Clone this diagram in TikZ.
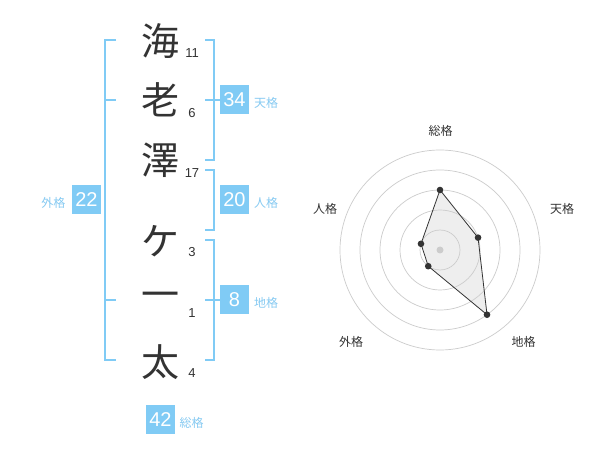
\documentclass[tikz,border=0pt]{standalone}
\usepackage{fontspec}
\setmainfont{Liberation Sans}
\newfontfamily\jpfont{Noto Sans CJK JP}
\definecolor{kcol}{HTML}{333333}
\definecolor{bl}{HTML}{80CBF5}
\definecolor{bltxt}{HTML}{86CAF2}
\definecolor{ring}{HTML}{CCCCCC}
\definecolor{area}{HTML}{EEEEEE}
\begin{document}
\begin{tikzpicture}[x=1pt,y=-1pt,
  kanji/.style={font=\jpfont\fontsize{38}{38}\selectfont, text=kcol, inner sep=0pt},
  strokes/.style={font=\fontsize{13}{13}\selectfont, text=kcol, inner sep=0pt},
  numbox/.style={fill=bl, minimum width=29pt, minimum height=29pt, inner sep=0pt, text=white, font=\fontsize{20}{20}\selectfont},
  kaku/.style={font=\jpfont\fontsize{12}{12}\selectfont, text=bltxt, inner sep=0pt},
  brk/.style={draw=bl, line width=2pt},
  axlabel/.style={font=\jpfont\fontsize{12}{12}\selectfont, text=kcol, inner sep=0pt},
  ringline/.style={draw=ring, line width=0.7pt},
  dot/.style={fill=kcol}
]
\useasboundingbox (0,0) rectangle (600,470);
\fill[white] (0,0) rectangle (600,470);

% kanji column
\node[kanji] (k1) at (160,41) {海};
\node[kanji] (k2) at (160,100) {老};
\node[kanji] (k3) at (160,160) {澤};
\node[kanji] (k4) at (160,241) {ケ};
\node[kanji] (k5) at (160,300) {一};
\node[kanji] (k6) at (160,362) {太};

% stroke counts
\node[strokes] (s1) at (192,53.5) {11};
\node[strokes] (s2) at (192,113) {6};
\node[strokes] (s3) at (192,173.5) {17};
\node[strokes] (s4) at (192,252) {3};
\node[strokes] (s5) at (192,313) {1};
\node[strokes] (s6) at (192,373) {4};

% brackets
\draw[brk] (116,40) -- (105,40) -- (105,360) -- (116,360);
\draw[brk] (105,100) -- (116,100);
\draw[brk] (105,300) -- (116,300);

\draw[brk] (205,40) -- (214,40) -- (214,160) -- (205,160);
\draw[brk] (205,100) -- (220,100);
\draw[brk] (205,170) -- (214,170) -- (214,230) -- (205,230);
\draw[brk] (205,240) -- (214,240) -- (214,360) -- (205,360);
\draw[brk] (205,300) -- (220,300);

% boxes and labels
\node[numbox] (b34) at (234.5,100) {34};
\node[kaku, anchor=west] (l34) at (254,102.5) {天格};
\node[numbox] (b20) at (234.5,200) {20};
\node[kaku, anchor=west] (l20) at (254,202.5) {人格};
\node[numbox] (b8) at (234.5,300) {8};
\node[kaku, anchor=west] (l8) at (254,302.5) {地格};
\node[numbox] (b22) at (86.5,200) {22};
\node[kaku, anchor=east] (l22) at (65.5,202.5) {外格};
\node[numbox] (b42) at (160.5,419.5) {42};
\node[kaku, anchor=west] (l42) at (179.5,422.5) {総格};

% radar chart
\coordinate (c) at (440,250);
\coordinate (p1) at ([shift={(c)}]-90:60);
\coordinate (p2) at ([shift={(c)}]-18:40);
\coordinate (p3) at ([shift={(c)}]54:80);
\coordinate (p4) at ([shift={(c)}]126:20);
\coordinate (p5) at ([shift={(c)}]-162:20);
\fill[area] (p1) -- (p2) -- (p3) -- (p4) -- (p5) -- cycle;
\foreach \r in {20,40,60,80,100} {\draw[ringline] (c) circle[radius=\r];}
\fill[ring] (c) circle[radius=3.5];
\draw[kcol, line width=0.8pt] (p1) -- (p2) -- (p3) -- (p4) -- (p5) -- cycle;
\foreach \p in {p1,p2,p3,p4,p5} {\fill[dot] (\p) circle[radius=3.3];}

\node[axlabel] (a1) at (440.5,130.5) {総格};
\node[axlabel] (a2) at (562,209) {天格};
\node[axlabel] (a3) at (325,209) {人格};
\node[axlabel] (a4) at (351,342) {外格};
\node[axlabel] (a5) at (523.5,342) {地格};
\end{tikzpicture}
\end{document}
